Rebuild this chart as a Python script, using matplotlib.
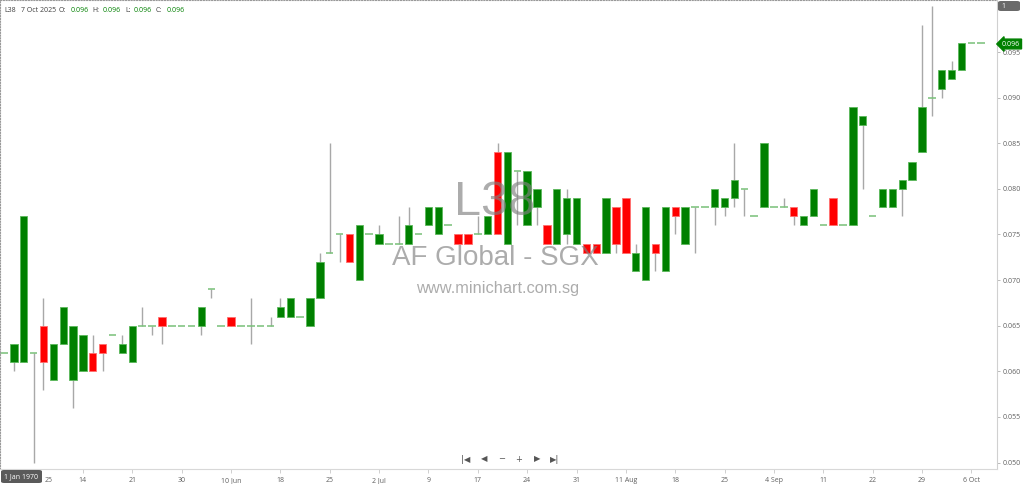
import matplotlib
matplotlib.use("Agg")
import matplotlib.pyplot as plt
from matplotlib.patches import FancyBboxPatch
from matplotlib.transforms import ScaledTranslation
import numpy as np

# daily OHLC, L38 (AF Global - SGX)
opens = [0.062, 0.061, 0.061, 0.062, 0.065, 0.059, 0.063, 0.059, 0.060, 0.062,
         0.063, 0.064, 0.062, 0.061, 0.065, 0.065, 0.066, 0.065, 0.065, 0.065,
         0.065, 0.069, 0.065, 0.066, 0.065, 0.065, 0.065, 0.065, 0.066, 0.066,
         0.066, 0.065, 0.068, 0.073, 0.075, 0.075, 0.070, 0.075, 0.074, 0.074,
         0.074, 0.074, 0.075, 0.076, 0.075, 0.076, 0.075, 0.075, 0.075, 0.075,
         0.084, 0.074, 0.082, 0.076, 0.078, 0.076, 0.074, 0.075, 0.074, 0.074,
         0.074, 0.073, 0.078, 0.079, 0.071, 0.070, 0.074, 0.071, 0.078, 0.074,
         0.078, 0.078, 0.078, 0.078, 0.079, 0.080, 0.077, 0.078, 0.078, 0.078,
         0.078, 0.076, 0.077, 0.076, 0.079, 0.076, 0.076, 0.087, 0.077, 0.078,
         0.078, 0.080, 0.081, 0.084, 0.090, 0.091, 0.092, 0.093, 0.096, 0.096]
highs = [0.062, 0.063, 0.077, 0.062, 0.068, 0.063, 0.067, 0.065, 0.064, 0.064,
         0.063, 0.064, 0.064, 0.065, 0.067, 0.065, 0.066, 0.065, 0.065, 0.065,
         0.067, 0.069, 0.065, 0.066, 0.065, 0.068, 0.065, 0.066, 0.068, 0.068,
         0.066, 0.068, 0.073, 0.085, 0.075, 0.075, 0.076, 0.075, 0.076, 0.074,
         0.077, 0.078, 0.075, 0.078, 0.078, 0.076, 0.075, 0.075, 0.077, 0.077,
         0.085, 0.084, 0.082, 0.082, 0.080, 0.076, 0.080, 0.080, 0.079, 0.074,
         0.074, 0.079, 0.078, 0.079, 0.074, 0.078, 0.074, 0.078, 0.078, 0.078,
         0.078, 0.078, 0.080, 0.079, 0.085, 0.080, 0.077, 0.085, 0.078, 0.079,
         0.078, 0.077, 0.080, 0.076, 0.079, 0.076, 0.089, 0.088, 0.077, 0.080,
         0.080, 0.081, 0.083, 0.098, 0.100, 0.093, 0.094, 0.096, 0.096, 0.096]
lows = [0.062, 0.060, 0.061, 0.050, 0.058, 0.059, 0.063, 0.056, 0.060, 0.060,
        0.060, 0.064, 0.062, 0.061, 0.065, 0.064, 0.063, 0.065, 0.065, 0.065,
        0.064, 0.068, 0.065, 0.065, 0.065, 0.063, 0.065, 0.065, 0.066, 0.066,
        0.066, 0.065, 0.068, 0.073, 0.072, 0.072, 0.070, 0.075, 0.074, 0.074,
        0.074, 0.074, 0.075, 0.076, 0.075, 0.076, 0.074, 0.074, 0.075, 0.075,
        0.075, 0.074, 0.076, 0.076, 0.076, 0.074, 0.074, 0.074, 0.074, 0.073,
        0.073, 0.073, 0.073, 0.073, 0.071, 0.070, 0.071, 0.071, 0.075, 0.074,
        0.073, 0.078, 0.076, 0.077, 0.078, 0.077, 0.077, 0.078, 0.078, 0.078,
        0.076, 0.076, 0.077, 0.076, 0.076, 0.076, 0.076, 0.080, 0.077, 0.078,
        0.078, 0.077, 0.081, 0.084, 0.088, 0.090, 0.092, 0.093, 0.096, 0.096]
closes = [0.062, 0.063, 0.077, 0.062, 0.061, 0.063, 0.067, 0.065, 0.064, 0.060,
          0.062, 0.064, 0.063, 0.065, 0.065, 0.065, 0.065, 0.065, 0.065, 0.065,
          0.067, 0.069, 0.065, 0.065, 0.065, 0.065, 0.065, 0.065, 0.067, 0.068,
          0.066, 0.068, 0.072, 0.073, 0.075, 0.072, 0.076, 0.075, 0.075, 0.074,
          0.074, 0.076, 0.075, 0.078, 0.078, 0.076, 0.074, 0.074, 0.075, 0.077,
          0.075, 0.084, 0.082, 0.082, 0.080, 0.074, 0.080, 0.079, 0.079, 0.073,
          0.073, 0.079, 0.074, 0.073, 0.073, 0.078, 0.073, 0.078, 0.077, 0.078,
          0.078, 0.078, 0.080, 0.079, 0.081, 0.080, 0.077, 0.085, 0.078, 0.078,
          0.077, 0.077, 0.080, 0.076, 0.076, 0.076, 0.089, 0.088, 0.077, 0.080,
          0.080, 0.081, 0.083, 0.089, 0.090, 0.093, 0.093, 0.096, 0.096, 0.096]

# first label is mostly hidden behind the date box, only "25" shows
date_labels = ["25", "14", "21", "30", "10 Jun", "18", "25", "2 Jul", "9", "17",
               "24", "31", "11 Aug", "18", "25", "4 Sep", "11", "22", "29", "6 Oct"]
price_ticks = [0.050, 0.055, 0.060, 0.065, 0.070, 0.075, 0.080, 0.085, 0.090, 0.095]

ticker = "L38"
last_date = "7 Oct 2025"
last_price = 0.096

W, H = 1024, 484
GREEN = "#008000"
RED = "#ff0000"


def fx(x):
    return x / W


def fy(y):
    return 1 - y / H


fig = plt.figure(figsize=(W / 100, H / 100), dpi=100)
fig.patch.set_facecolor("white")
ax = fig.add_axes([0, fy(469), fx(997), 469 / H])

o = np.array(opens)
h = np.array(highs)
l = np.array(lows)
c = np.array(closes)
x = np.arange(len(o))

# wicks
has_wick = h > l
ax.vlines(x[has_wick], l[has_wick], h[has_wick], color="#a8a8a8", lw=1.0, zorder=1)

# bodies
up = c > o
dn = c < o
ax.bar(x[up], c[up] - o[up], bottom=o[up], width=0.74, color=GREEN,
       edgecolor="#5cb85c", linewidth=0.6, zorder=2)
ax.bar(x[dn], o[dn] - c[dn], bottom=c[dn], width=0.74, color=RED,
       edgecolor="#ff7070", linewidth=0.6, zorder=2)
doji = c == o
ax.hlines(o[doji], x[doji] - 0.38, x[doji] + 0.38, color="#78c078", lw=1.1, zorder=2)

ax.set_xlim(-0.405, 100.6)
ax.set_ylim(0.04929, 0.10071)

# watermark
ax.text(0.496, 1 - 203 / 469, ticker, transform=ax.transAxes, ha="center", va="center",
        fontsize=35, family="Liberation Sans", color="#808080", alpha=0.65, zorder=5)
ax.text(0.497, 1 - 258 / 469, "AF Global - SGX", transform=ax.transAxes, ha="center",
        va="center", fontsize=20, family="Liberation Sans", color="#808080", alpha=0.65,
        zorder=5)
ax.text(0.499, 1 - 289 / 469, "www.minichart.com.sg", transform=ax.transAxes,
        ha="center", va="center", fontsize=11.8, family="Liberation Sans",
        color="#808080", alpha=0.65, zorder=5)

# axes styling
for side in ["top", "left"]:
    ax.spines[side].set_linestyle((0, (1, 1.5)))
    ax.spines[side].set_color("#999999")
    ax.spines[side].set_linewidth(0.8)
ax.spines["right"].set_color("#d0d0d0")
ax.spines["bottom"].set_color("#d8d8d8")

ax.yaxis.tick_right()
ax.set_yticks(price_ticks)
ax.set_yticklabels(["%.3f" % p for p in price_ticks])
ax.tick_params(axis="y", length=2, pad=2, labelsize=5, labelcolor="#606060",
               color="#b0b0b0", width=0.6)
ax.set_xticks(range(3, len(o), 5))
ax.set_xticklabels(date_labels)
ax.tick_params(axis="x", length=3, pad=3, labelsize=5, labelcolor="#606060",
               color="#c8c8c8", width=0.6)
for t in ax.get_xticklabels() + ax.get_yticklabels():
    t.set_family("Open Sans")
# shift the half-hidden first label clear of the date box
first = ax.get_xticklabels()[0]
first.set_transform(first.get_transform() + ScaledTranslation(0.155, 0, fig.dpi_scale_trans))

# header
hdr = [(4, ticker, "#404040"), (21, last_date, "#404040"),
       (59, "O:", "#404040"), (71, "%.3f" % last_price, GREEN),
       (92, "H:", "#404040"), (103, "%.3f" % last_price, GREEN),
       (125, "L:", "#404040"), (134, "%.3f" % last_price, GREEN),
       (156, "C:", "#404040"), (167, "%.3f" % last_price, GREEN)]
for px, s, col in hdr:
    fig.text(fx(px), fy(11), s, fontsize=5, color=col, va="center", family="Open Sans")

# nav buttons
for px, s in [(466, "|◀"), (484, "◀"), (502, "−"), (519, "+"), (537, "▶"), (555, "▶|")]:
    fig.text(fx(px), fy(459), s, fontsize=6, color="#555555", ha="center", va="center")

# date box bottom-left
fig.patches.append(FancyBboxPatch((fx(1), fy(483)), fx(41), 13 / H,
                                  boxstyle="round,pad=0,rounding_size=0.003",
                                  transform=fig.transFigure, fc="#5a5a5a", ec="none",
                                  zorder=10))
fig.text(fx(21.5), fy(476.5), "1 Jan 1970", fontsize=5, color="white", ha="center",
         va="center", family="Open Sans", zorder=11)

# top right box
fig.patches.append(FancyBboxPatch((fx(998), fy(11)), fx(22), 10 / H,
                                  boxstyle="round,pad=0,rounding_size=0.003",
                                  transform=fig.transFigure, fc="#6a6a6a", ec="none",
                                  zorder=10))
fig.text(fx(1001), fy(6), "1", fontsize=5, color="white", va="center",
         family="Open Sans", zorder=11)

# last price tag
fig.text(fx(1002), fy(44), "%.3f" % last_price, fontsize=5, color="white", va="center",
         family="Open Sans", zorder=11,
         bbox=dict(boxstyle="larrow,pad=0.2", fc=GREEN, ec=GREEN))

fig.savefig("out.png", dpi=100)
